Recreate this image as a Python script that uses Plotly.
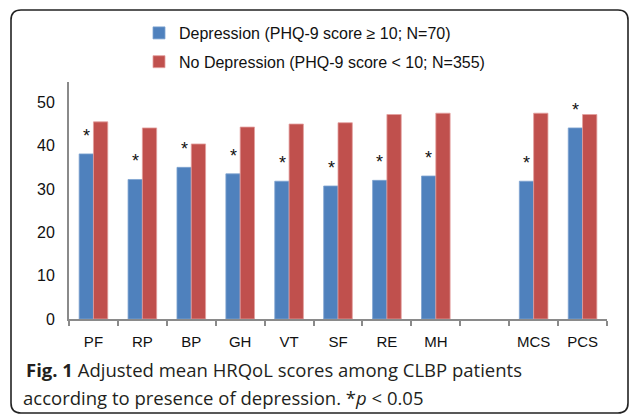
import plotly.graph_objects as go

categories = ["PF", "RP", "BP", "GH", "VT", "SF", "RE", "MH", " ", "MCS", "PCS"]
depression = [38.1, 32.2, 35.0, 33.5, 31.8, 30.7, 32.0, 33.0, None, 31.8, 44.1]
no_depression = [45.5, 44.1, 40.4, 44.3, 45.0, 45.3, 47.2, 47.5, None, 47.5, 47.2]
significant = [True, True, True, True, True, True, True, True, False, True, True]
y_ticks = [0, 10, 20, 30, 40, 50]

name_dep = "Depression (PHQ-9 score ≥ 10; N=70)"
name_nodep = "No Depression (PHQ-9 score < 10; N=355)"

W, H = 630, 415
ML, MR, MT, MB = 69, 23, 82, 96
PW, PH = W - ML - MR, H - MT - MB

def px_x(p):
    return (p - ML) / PW

def px_y(p):
    return (H - MB - p) / PH

fig = go.Figure()
fig.add_trace(go.Bar(
    x=categories, y=depression, name=name_dep, legendgroup="a",
    marker=dict(color="#4F81BD", line=dict(color="#7FA3D0", width=0.8)),
))
fig.add_trace(go.Bar(
    x=categories, y=no_depression, name=name_nodep, legendgroup="b",
    marker=dict(color="#C0504D", line=dict(color="#E3A09E", width=0.8)),
))

# significance asterisks above the depression bars
for c, v, s in zip(categories, depression, significant):
    if s and v is not None:
        fig.add_annotation(x=c, y=v, xref="x", yref="y", text="*", showarrow=False,
                           xshift=-7, yshift=18, yanchor="middle",
                           font=dict(family="Liberation Sans, Arial", size=18, color="#111"))

# frame with rounded corners
x0, x1 = px_x(11), px_x(628)
y0, y1 = px_y(413), px_y(10)
rx, ry = 10 / PW, 10 / PH
path = (f"M{x0+rx},{y1} L{x1-rx},{y1} Q{x1},{y1} {x1},{y1-ry} "
        f"L{x1},{y0+ry} Q{x1},{y0} {x1-rx},{y0} L{x0+rx},{y0} "
        f"Q{x0},{y0} {x0},{y0+ry} L{x0},{y1-ry} Q{x0},{y1} {x0+rx},{y1} Z")
fig.add_shape(type="path", path=path, xref="paper", yref="paper",
              line=dict(color="#222", width=1.6), layer="above")

cap_font = "Open Sans, Noto Sans, sans-serif"
fig.add_annotation(xref="paper", yref="paper", x=px_x(24), y=px_y(369),
                   xanchor="left", yanchor="middle", showarrow=False, align="left",
                   text="<b>Fig. 1</b> Adjusted mean HRQoL scores among CLBP patients",
                   font=dict(family=cap_font, size=18.5, color="#231f20"))
fig.add_annotation(xref="paper", yref="paper", x=px_x(21), y=px_y(397),
                   xanchor="left", yanchor="middle", showarrow=False, align="left",
                   text="according to presence of depression. *<i>p</i> < 0.05",
                   font=dict(family=cap_font, size=18.5, color="#231f20"))

fig.update_layout(
    width=W, height=H,
    margin=dict(l=ML, r=MR, t=MT, b=MB, pad=0, autoexpand=False),
    paper_bgcolor="white", plot_bgcolor="white",
    barmode="group", bargap=0.415, bargroupgap=0,
    font=dict(family="Liberation Sans, Arial", size=15, color="#111"),
    showlegend=True,
    legend=dict(x=px_x(139), y=px_y(16), xanchor="left", yanchor="top",
                orientation="v", tracegroupgap=5, bgcolor="rgba(0,0,0,0)",
                font=dict(family="Liberation Sans, Arial", size=16, color="#111")),
    xaxis=dict(type="category", categoryorder="array", categoryarray=categories,
               showline=True, linecolor="#8a8a8a", linewidth=2,
               ticks="outside", tickson="boundaries", ticklen=5, tickcolor="#8a8a8a",
               tickwidth=1.5, showgrid=False, zeroline=False, ticklabelstandoff=8,
               tickfont=dict(size=15, color="#111")),
    yaxis=dict(range=[0, 54.7], tickvals=y_ticks, showline=True, linecolor="#8a8a8a",
               linewidth=2, ticks="", showgrid=False, zeroline=False,
               tickfont=dict(size=16, color="#111"), ticklabelstandoff=9),
)

fig.write_html("out.html", config={"displayModeBar": False},
               post_script="document.body.style.margin='0';")
